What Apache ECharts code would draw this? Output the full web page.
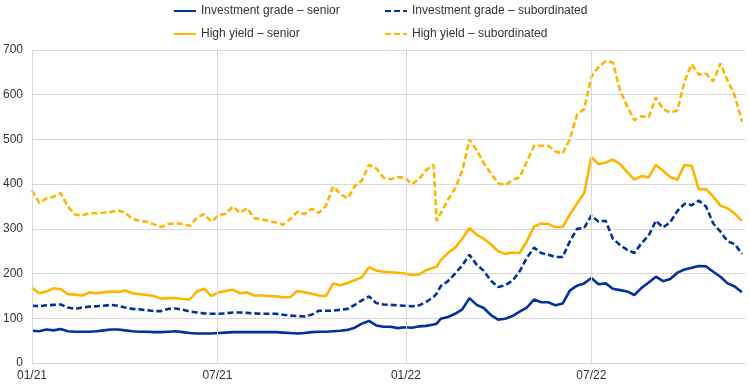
<!DOCTYPE html>
<html><head><meta charset="utf-8">
<script src="https://cdn.jsdelivr.net/npm/echarts@6/dist/echarts.min.js"></script>
<style>html,body{margin:0;padding:0;background:#fff}#c{width:750px;height:386px}</style>
</head><body><div id="c"></div>
<script>
// Weekly observations from 2021-01-01, plus one extra observation on 2022-01-31
const startDate = new Date(2021, 0, 1);
const weekCount = 100;
const extraDate = new Date(2022, 0, 31);
const extraAfterWeek = 56;

const seriesNames = ['Investment grade – senior', 'Investment grade – subordinated', 'High yield – senior', 'High yield – subordinated'];

const igSenior = [
  72,71,75,73,76,71,70,70,70,71,
  73,75,75,73,71,70,70,69,69,70,
  71,69,67,66,66,66,67,68,69,69,
  69,69,69,69,69,68,67,66,67,69,
  70,70,71,72,74,79,88,94,84,81,
  81,78,80,79,82,83,86,88,99,103,110,
  120,145,130,123,107,97,99,105,115,124,
  142,136,136,129,133,162,173,178,190,176,
  178,166,163,160,152,168,180,193,183,188,
  202,209,213,217,216,204,193,178,171,158
];
const igSub = [
  128,127,129,130,131,124,121,124,126,127,
  128,130,128,124,121,120,118,116,116,121,
  122,119,115,113,111,110,110,111,113,113,
  112,111,110,110,110,108,106,105,104,108,
  117,117,117,119,121,130,140,149,134,131,
  130,129,128,127,129,137,148,155,172,183,200,
  218,242,220,206,184,170,174,184,205,235,
  258,246,242,237,237,272,300,302,330,316,
  318,278,264,253,246,268,285,318,303,315,
  340,356,353,363,350,312,294,272,266,244
];
const hySenior = [
  168,156,160,167,165,154,153,151,158,156,
  158,160,159,162,156,154,152,150,144,145,
  145,143,142,160,166,150,158,161,164,156,
  158,151,151,150,149,147,147,161,158,155,
  151,150,178,174,179,185,192,214,207,204,
  203,202,200,197,198,208,213,215,230,246,258,
  278,302,287,278,265,250,244,247,246,272,
  305,312,311,304,304,332,356,380,460,445,
  448,455,445,427,410,418,415,443,430,416,
  410,443,441,388,389,372,352,346,334,318
];
const hySub = [
  386,358,368,372,380,350,332,330,335,335,
  336,338,341,336,322,318,316,310,304,311,
  312,311,307,325,333,316,330,334,350,336,
  346,324,321,318,314,309,322,338,333,345,
  336,352,395,378,368,395,408,443,435,415,
  411,416,414,400,412,432,443,318,335,365,390,
  430,500,476,447,424,402,398,409,415,450,
  485,486,486,473,469,500,555,568,640,662,
  675,672,610,574,543,552,550,594,568,560,
  565,630,668,645,647,630,670,632,598,540
];

const tickDates = [new Date(2021,0,1), new Date(2021,6,1), new Date(2022,0,1), new Date(2022,6,1)];
const tickLabels = ['01/21', '07/21', '01/22', '07/22'];
const yTicks = [0, 100, 200, 300, 400, 500, 600, 700];

// build date list
const dates = [];
for (let i = 0; i < weekCount; i++) {
  const d = new Date(startDate.getFullYear(), startDate.getMonth(), startDate.getDate() + 7 * i);
  dates.push(d.getTime());
  if (i === extraAfterWeek) dates.push(extraDate.getTime());
}
const pair = (vals) => vals.map((v, i) => [dates[i], v]);
const tickTimes = tickDates.map(d => d.getTime());

const chart = echarts.init(document.getElementById('c'), null, {renderer: 'canvas'});
const font = 'Liberation Sans, Arial, sans-serif';
const blue = '#003299', yellow = '#FFB400', gridColor = '#d9d9d9';
const legendBase = {
  padding: 0, itemWidth: 22, itemHeight: 14, itemGap: 0,
  itemStyle: {opacity: 0},
  textStyle: {fontSize: 12, color: '#333', fontFamily: font}
};
function mkSeries(name, vals, color, dashed) {
  return {
    name, type: 'line', data: pair(vals), symbol: 'none', showSymbol: false, z: 3,
    lineStyle: {color, width: 2.6, type: dashed ? [6, 3] : 'solid'},
    itemStyle: {color}, emphasis: {disabled: true}
  };
}
chart.setOption({
  animation: false,
  grid: {left: 31, right: 5, top: 50, bottom: 23, containLabel: false},
  legend: [
    Object.assign({data: [seriesNames[0]], left: 173, top: 5}, legendBase),
    Object.assign({data: [seriesNames[1]], left: 384, top: 5}, legendBase),
    Object.assign({data: [seriesNames[2]], left: 173, top: 28}, legendBase),
    Object.assign({data: [seriesNames[3]], left: 384, top: 28}, legendBase)
  ],
  xAxis: {
    type: 'time',
    min: new Date(2021, 0, 1).getTime(),
    max: new Date(2022, 10, 28).getTime(),
    axisLine: {show: true, lineStyle: {color: gridColor, width: 1}},
    axisTick: {show: false},
    axisLabel: {show: false},
    splitLine: {show: false}
  },
  yAxis: {
    type: 'value', min: yTicks[0], max: yTicks[yTicks.length - 1], interval: 100,
    axisLine: {show: false}, axisTick: {show: false},
    axisLabel: {margin: 9, fontSize: 12, color: '#333', fontFamily: font},
    splitLine: {show: true, lineStyle: {color: gridColor, width: 1}}
  },
  series: [
    {
      name: 'ticks', type: 'line', data: [], z: 1, silent: true,
      markLine: {
        silent: true, symbol: 'none', animation: false,
        lineStyle: {color: gridColor, width: 1, type: 'solid'},
        label: {
          show: true, position: 'start', distance: 7, fontSize: 12, color: '#333', fontFamily: font,
          formatter: (p) => tickLabels[p.dataIndex]
        },
        data: tickTimes.map(t => ({xAxis: t}))
      }
    },
    mkSeries(seriesNames[0], igSenior, blue, false),
    mkSeries(seriesNames[1], igSub, blue, true),
    mkSeries(seriesNames[2], hySenior, yellow, false),
    mkSeries(seriesNames[3], hySub, yellow, true)
  ]
});
</script></body></html>
